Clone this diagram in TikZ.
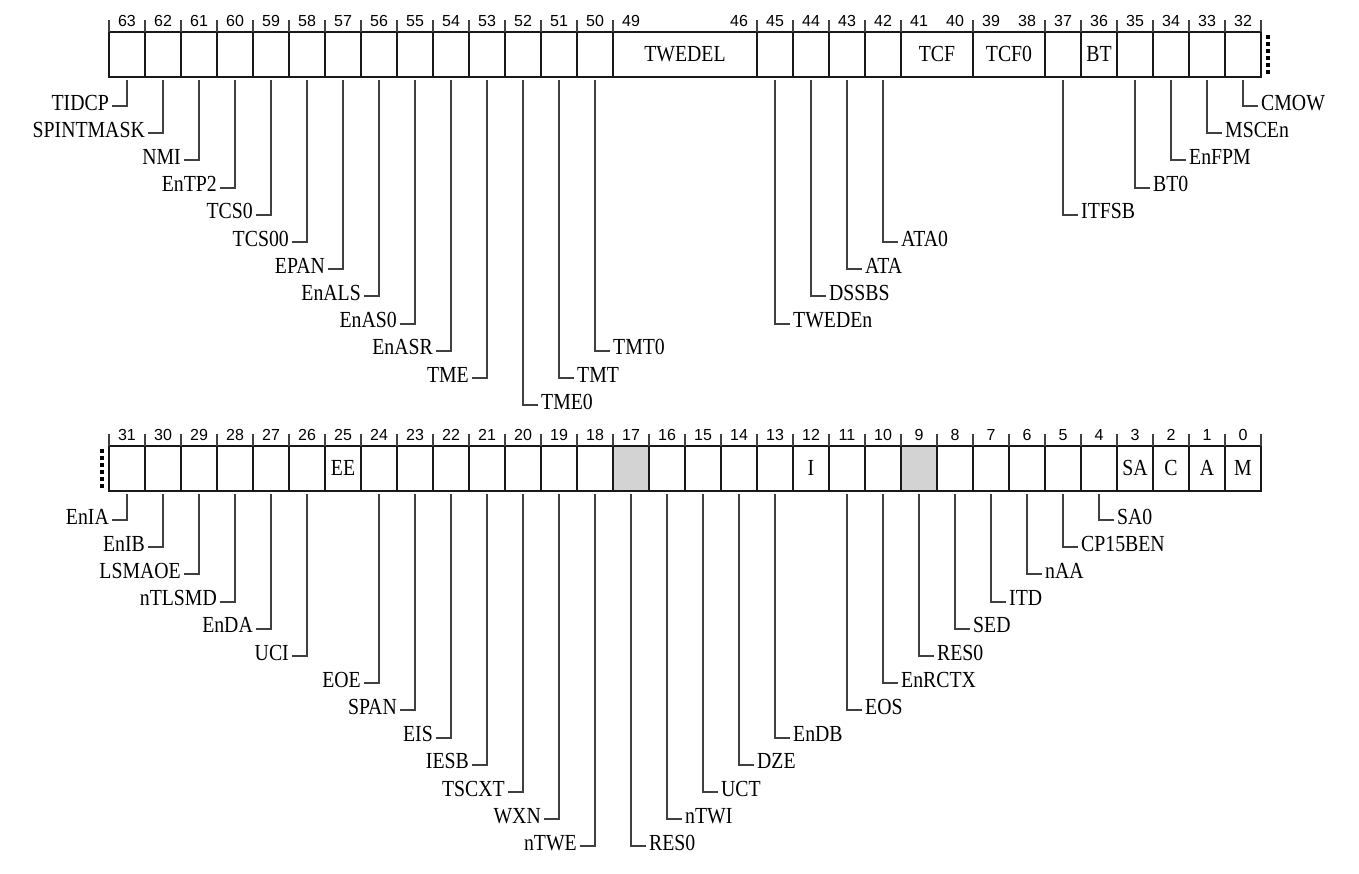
\documentclass[tikz,border=0pt]{standalone}
\usepackage{fontspec}
\setmainfont[FakeStretch=0.86]{Liberation Serif}
\newfontfamily\numfont{Liberation Sans}
\newcommand\lblfont{\fontsize{23}{23}\selectfont}
\newcommand\bitfont{\numfont\fontsize{16}{16}\selectfont}
\definecolor{cellgray}{RGB}{211,211,211}
\definecolor{linegray}{RGB}{64,64,64}
\begin{document}
\begin{tikzpicture}[x=1pt,y=-1pt,
  cell/.style={draw=black!90, line width=2pt, minimum height=45pt, inner sep=0pt, outer sep=0pt, anchor=north west, font=\lblfont},
  lead/.style={draw=linegray, line width=2pt},
  tickline/.style={draw=linegray, line width=2pt},
  lbl/.style={inner sep=0pt, font=\lblfont},
  num/.style={inner sep=0pt, anchor=base, font=\bitfont},
  dots/.style={draw=black, line width=4pt, dash pattern=on 4pt off 3pt}]
\useasboundingbox (0,0) rectangle (1359,873);

% ---------- top row: bits 63..32 ----------
\foreach \m/\w/\t in {63/1/,62/1/,61/1/,60/1/,59/1/,58/1/,57/1/,56/1/,55/1/,54/1/,53/1/,52/1/,51/1/,50/1/,49/4/TWEDEL,45/1/,44/1/,43/1/,42/1/,41/2/TCF,39/2/TCF0,37/1/,36/1/BT,35/1/,34/1/,33/1/,32/1/}{
  \pgfmathsetmacro\ww{36*\w}
  \pgfmathsetmacro\xx{109+36*(63-\m)}
  \node[cell, minimum width=\ww pt] (c\m) at (\xx,31.5) {\t};
  \draw[tickline] (\xx,20) -- (\xx,31.5);
}
\draw[tickline] (1261,20) -- (1261,31.5);
\foreach \b in {63,62,61,60,59,58,57,56,55,54,53,52,51,50,49,46,45,44,43,42,41,40,39,38,37,36,35,34,33,32}{
  \pgfmathsetmacro\cx{127+36*(63-\b)}
  \node[num] (n\b) at (\cx,26) {\b};
}
\draw[dots] (1268,35) -- (1268,74);

% left-going labels (top)
\foreach \b/\k/\t in {63/0/TIDCP,62/1/SPINTMASK,61/2/NMI,60/3/EnTP2,59/4/TCS0,58/5/TCS00,57/6/EPAN,56/7/EnALS,55/8/EnAS0,54/9/EnASR,53/10/TME}{
  \pgfmathsetmacro\cx{127+36*(63-\b)}
  \pgfmathsetmacro\ly{106+27.2*\k}
  \coordinate (e\b) at (\cx-15,\ly);
  \draw[lead] ([yshift=-3.5pt]c\b.south) |- (e\b);
  \node[lbl, anchor=base east] (l\b) at ([xshift=-3pt,yshift=-4pt]e\b) {\t};
}
% right-going labels (top)
\foreach \b/\k/\t in {52/11/TME0,51/10/TMT,50/9/TMT0,45/8/TWEDEn,44/7/DSSBS,43/6/ATA,42/5/ATA0,37/4/ITFSB,35/3/BT0,34/2/EnFPM,33/1/MSCEn,32/0/CMOW}{
  \pgfmathsetmacro\cx{127+36*(63-\b)}
  \pgfmathsetmacro\ly{106+27.2*\k}
  \coordinate (e\b) at (\cx+15,\ly);
  \draw[lead] ([yshift=-3.5pt]c\b.south) |- (e\b);
  \node[lbl, anchor=base west] (l\b) at ([xshift=3pt,yshift=-4pt]e\b) {\t};
}

% ---------- bottom row: bits 31..0 ----------
\foreach \m/\t/\f in {31//white,30//white,29//white,28//white,27//white,26//white,25/EE/white,24//white,23//white,22//white,21//white,20//white,19//white,18//white,17//cellgray,16//white,15//white,14//white,13//white,12/I/white,11//white,10//white,9//cellgray,8//white,7//white,6//white,5//white,4//white,3/SA/white,2/C/white,1/A/white,0/M/white}{
  \pgfmathsetmacro\xx{109+36*(31-\m)}
  \node[cell, minimum width=36pt, fill=\f] (c\m) at (\xx,445.7) {\t};
  \draw[tickline] (\xx,434) -- (\xx,445.7);
  \pgfmathsetmacro\cx{127+36*(31-\m)}
  \node[num] (n\m) at (\cx,440.5) {\m};
}
\draw[tickline] (1261,434) -- (1261,445.7);
\draw[dots] (102,449) -- (102,489);

% left-going labels (bottom)
\foreach \b/\k/\t in {31/0/EnIA,30/1/EnIB,29/2/LSMAOE,28/3/nTLSMD,27/4/EnDA,26/5/UCI,24/6/EOE,23/7/SPAN,22/8/EIS,21/9/IESB,20/10/TSCXT,19/11/WXN,18/12/nTWE}{
  \pgfmathsetmacro\cx{127+36*(31-\b)}
  \pgfmathsetmacro\ly{520+27.2*\k}
  \coordinate (e\b) at (\cx-15,\ly);
  \draw[lead] ([yshift=-3.5pt]c\b.south) |- (e\b);
  \node[lbl, anchor=base east] (l\b) at ([xshift=-3pt,yshift=-4pt]e\b) {\t};
}
% right-going labels (bottom)
\foreach \b/\k/\t in {17/12/RES0,16/11/nTWI,15/10/UCT,14/9/DZE,13/8/EnDB,11/7/EOS,10/6/EnRCTX,9/5/RES0,8/4/SED,7/3/ITD,6/2/nAA,5/1/CP15BEN,4/0/SA0}{
  \pgfmathsetmacro\cx{127+36*(31-\b)}
  \pgfmathsetmacro\ly{520+27.2*\k}
  \coordinate (e\b) at (\cx+15,\ly);
  \draw[lead] ([yshift=-3.5pt]c\b.south) |- (e\b);
  \node[lbl, anchor=base west] (l\b) at ([xshift=3pt,yshift=-4pt]e\b) {\t};
}
\end{tikzpicture}
\end{document}
